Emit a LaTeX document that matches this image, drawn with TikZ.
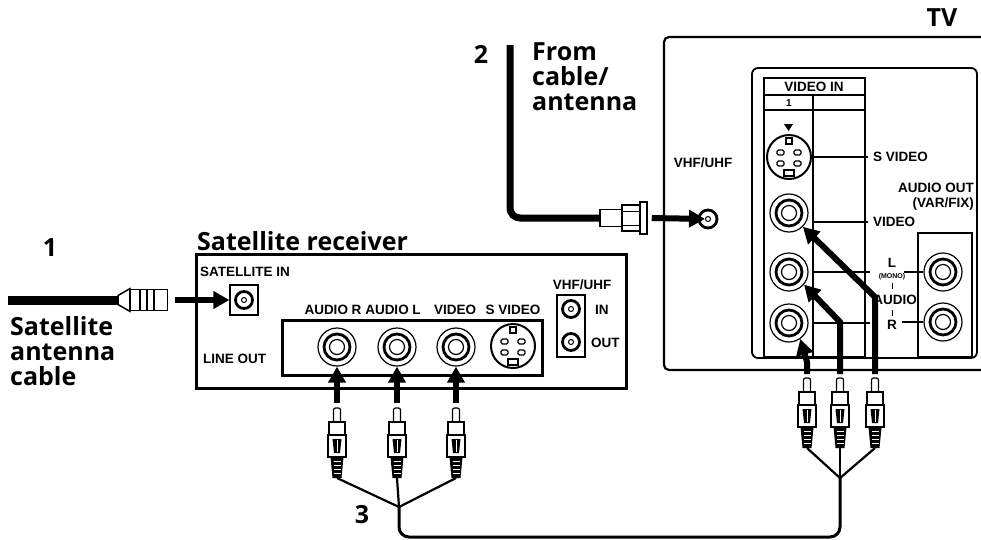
\documentclass[tikz,border=0pt]{standalone}
\usepackage{fontspec}
\setmainfont{Liberation Sans}
\newfontfamily\capfont{Open Sans}
\usetikzlibrary{arrows.meta}

\tikzset{
  rcaplug/.pic={
    \draw[fill=white, line width=1.2pt, rounded corners=2pt] (-3.5,1) rectangle (3.5,16);
    \draw[fill=white, line width=2pt] (-8,15) rectangle (8,28);
    \draw[fill=white, line width=2.2pt] (-9,28) rectangle (9,50);
    \fill (-4.5,32) -- (4.5,32) -- (3,46) -- (-3,46) -- cycle;
    \draw[white, line width=1pt] (0,33) -- (0,45);
    \fill (-6.5,50) -- (6.5,50) -- (4.5,71) -- (-4.5,71) -- cycle;
    \foreach \yy in {54,58,62,66}
      \draw[white, line width=0.8pt] (-3.5,\yy) -- (3.5,\yy);
    \coordinate (-top) at (0,0);
    \coordinate (-bot) at (0,71);
  }
}

\begin{document}
\begin{tikzpicture}[x=1pt, y=-1pt,
  lbl/.style={font=\bfseries\fontsize{13.5}{14}\selectfont, inner sep=0pt},
  tinylbl/.style={font=\bfseries\fontsize{7}{8}\selectfont, inner sep=0pt},
  captxt/.style={font=\capfont\bfseries\fontsize{25}{25}\selectfont, inner sep=0pt, align=left},
  bigarrow/.style={line width=6pt, -{Triangle[length=16pt,width=17pt]}},
  wire/.style={line width=2.2pt},
  trunk/.style={line width=3pt, rounded corners=10pt},
  part/.style={draw, fill=white, line width=1.5pt, inner sep=0pt},
  rca/.style={circle, draw, line width=1.2pt, minimum size=38pt, inner sep=0pt,
    path picture={
      \draw[line width=2.8pt] (path picture bounding box.center) circle[radius=13pt];
      \draw[line width=1.2pt] (path picture bounding box.center) circle[radius=7.5pt];}},
  svideo/.style={circle, draw, line width=2pt, minimum size=44pt, inner sep=0pt,
    path picture={
      \begin{scope}[shift={(path picture bounding box.center)}, line width=1.2pt]
        \draw (-3,-19) rectangle (3,-13);
        \draw[rounded corners=1.5pt] (-12,-7) rectangle (-5,-2);
        \draw[rounded corners=1.5pt] (5,-7) rectangle (12,-2);
        \draw[rounded corners=1.5pt] (-12,4) rectangle (-5,9);
        \draw[rounded corners=1.5pt] (5,4) rectangle (12,9);
        \draw (-5,13) rectangle (5,19);
      \end{scope}}},
  coax/.style={circle, draw, line width=2.8pt, minimum size=17pt, inner sep=0pt,
    path picture={
      \draw[line width=1pt] (path picture bounding box.center) circle[radius=2.5pt];}}]
\useasboundingbox (0,0) rectangle (981,539);

% satellite antenna cable
\node[captxt] (num1) at (50,248) {1};
\draw[line width=9pt] (8,300) -- (119,300);
\node[part, minimum width=37pt, minimum height=21pt] (satplug) at (149,300) {};
\draw[fill=white, line width=1.5pt] (118,295.5) -- (satplug.north west) -- (satplug.south west) -- (118,304.5) -- cycle;
\foreach \xx in {140,147,154}
  \draw[line width=1.2pt] (\xx,290) -- (\xx,310);
\node[captxt, anchor=north west] (satcable) at (10,316) {Satellite\\antenna\\cable};

% satellite receiver
\node[draw, line width=2.5pt, minimum width=430pt, minimum height=134pt, anchor=north west, inner sep=0pt] (rx) at (195,253) {};
\node[captxt, anchor=base west] (rxtitle) at (197,250) {Satellite receiver};
\node[lbl, anchor=west] (satinlbl) at (200,272) {SATELLITE IN};
\node[draw, line width=1.2pt, minimum width=28pt, minimum height=30pt] (satin) at (244,300) {};
\node[coax] (satinjack) at (satin) {};
\draw[bigarrow] ([xshift=7pt]satplug.east) -- (satin.west);
\node[lbl, anchor=west] (lineoutlbl) at (203,359) {LINE OUT};
\node[draw, line width=3pt, minimum width=260pt, minimum height=55pt] (lineout) at (412,347.5) {};
\node[lbl] (arlbl) at (333,310) {AUDIO R};
\node[lbl] (allbl) at (393,310) {AUDIO L};
\node[lbl] (vlbl) at (455,310) {VIDEO};
\node[lbl] (svlbl) at (513,310) {S VIDEO};
\node[rca] (rxAR) at (337,347) {};
\node[rca] (rxAL) at (397,347) {};
\node[rca] (rxV) at (456,347) {};
\node[svideo] (rxSV) at (513,346) {};
\node[lbl] (rxvhflbl) at (582,285) {VHF/UHF};
\node[draw, line width=1.5pt, minimum width=28pt, minimum height=62pt] (rxvhf) at (571,326) {};
\node[coax] (rxvhfin) at (571,309) {};
\node[coax] (rxvhfout) at (571,342) {};
\node[lbl, anchor=west] (inlbl) at (595,310) {IN};
\node[lbl, anchor=west] (outlbl) at (591,343) {OUT};

% cable from antenna
\node[captxt] (num2) at (481,54) {2};
\node[captxt, anchor=north west] (fromlbl) at (532,42) {From\\cable/\\antenna};
\node[part, minimum width=22pt, minimum height=17pt] (coaxnut) at (611,218) {};
\draw[line width=7pt, rounded corners=10pt] (510,45) -- (510,218) -- (coaxnut.west);
\node[part, minimum width=18pt, minimum height=26pt] (coaxbody) at (631,218) {};
\draw[line width=1pt] (coaxbody.west |- 0,211) -- (coaxbody.east |- 0,211);
\draw[line width=1pt] (coaxbody.west |- 0,225) -- (coaxbody.east |- 0,225);
\node[part, minimum width=7pt, minimum height=32pt] (coaxring) at (643.5,218) {};

% TV
\draw[line width=2.2pt, rounded corners=5pt] (981,37) -- (664,37) -- (664,370) -- (981,370);
\node[captxt] (tvlbl) at (942,18) {TV};
\node[lbl] (tvvhflbl) at (703,163) {VHF/UHF};
\node[coax, minimum size=18pt] (tvvhf) at (708,219) {};
\draw[bigarrow, shorten >=3pt] ([xshift=4pt]coaxring.east) -- (tvvhf.center);
\draw[line width=1.8pt, rounded corners=6pt] (752,68) rectangle (977,358);
\draw[line width=1.5pt] (764,78) rectangle (865,357);
\draw[line width=1.2pt] (764,95) -- (865,95);
\draw[line width=1.2pt] (764,110) -- (865,110);
\draw[line width=1.2pt] (813,95) -- (813,357);
\node[lbl] (vidinlbl) at (814,87) {VIDEO IN};
\node[lbl, font=\bfseries\fontsize{10}{10}\selectfont] (onelbl) at (789,103) {1};
\fill (784,124) -- (793,124) -- (788.5,131) -- cycle;
\node[svideo] (tvSV) at (789,157) {};
\draw[line width=1.2pt] (813,157) -- (868,157);
\node[lbl, anchor=west] (tvsvlbl) at (873,157) {S VIDEO};
\node[rca] (tvV) at (789,213) {};
\draw[line width=1.2pt] (813,222) -- (868,222);
\node[lbl, anchor=west] (tvvlbl) at (873,222) {VIDEO};
\node[lbl, anchor=east] (aolbl) at (974,188) {AUDIO OUT};
\node[lbl, anchor=east] (varlbl) at (974,204) {(VAR/FIX)};
\draw[line width=1.5pt] (918,233) rectangle (972,357);
\node[rca] (tvL) at (789,272) {};
\node[rca] (tvR) at (789,323) {};
\node[rca] (aoL) at (943,272) {};
\node[rca] (aoR) at (943,322) {};
\draw[line width=1.2pt] (813,272) -- (870,272);
\draw[line width=1.2pt] (813,323) -- (870,323);
\draw[line width=1.2pt] (904,272) -- (aoL.west);
\draw[line width=1.2pt] (902,322) -- (aoR.west);
\node[lbl] (llbl) at (892,263) {L};
\node[tinylbl] (monolbl) at (892,277) {(MONO)};
\draw[line width=1pt] (892,283) -- (892,289);
\node[lbl] (audiolbl) at (895,300) {AUDIO};
\draw[line width=1pt] (892,310) -- (892,316);
\node[lbl] (rlbl) at (892,325) {R};

% audio/video cable
\pic (rp1) at (337,407) {rcaplug};
\pic (rp2) at (397,407) {rcaplug};
\pic (rp3) at (456,407) {rcaplug};
\pic (tp1) at (807,377) {rcaplug};
\pic (tp2) at (840,377) {rcaplug};
\pic (tp3) at (875,377) {rcaplug};
\draw[bigarrow] ([yshift=4pt]rp1-top) -- (rxAR.south);
\draw[bigarrow] ([yshift=4pt]rp2-top) -- (rxAL.south);
\draw[bigarrow] ([yshift=4pt]rp3-top) -- (rxV.south);
\draw[bigarrow] ([yshift=3pt]tp3-top) -- ++(0,-77) -- (tvV.-45);
\draw[bigarrow] ([yshift=3pt]tp2-top) -- ++(0,-52) -- (tvL.-40);
\draw[bigarrow] ([yshift=3pt]tp1-top) -- ++(0,-12) -- (tvR.-55);
\coordinate (rxjoin) at (399,507);
\coordinate (tvjoin) at (840,478);
\foreach \p in {rp1,rp2,rp3}
  \draw[wire] (\p-bot) -- (rxjoin);
\foreach \p in {tp1,tp2,tp3}
  \draw[wire] (\p-bot) -- (tvjoin);
\draw[trunk] (rxjoin) -- ++(0,30) -| (tvjoin);
\node[captxt] (num3) at (362,515) {3};
\end{tikzpicture}
\end{document}
